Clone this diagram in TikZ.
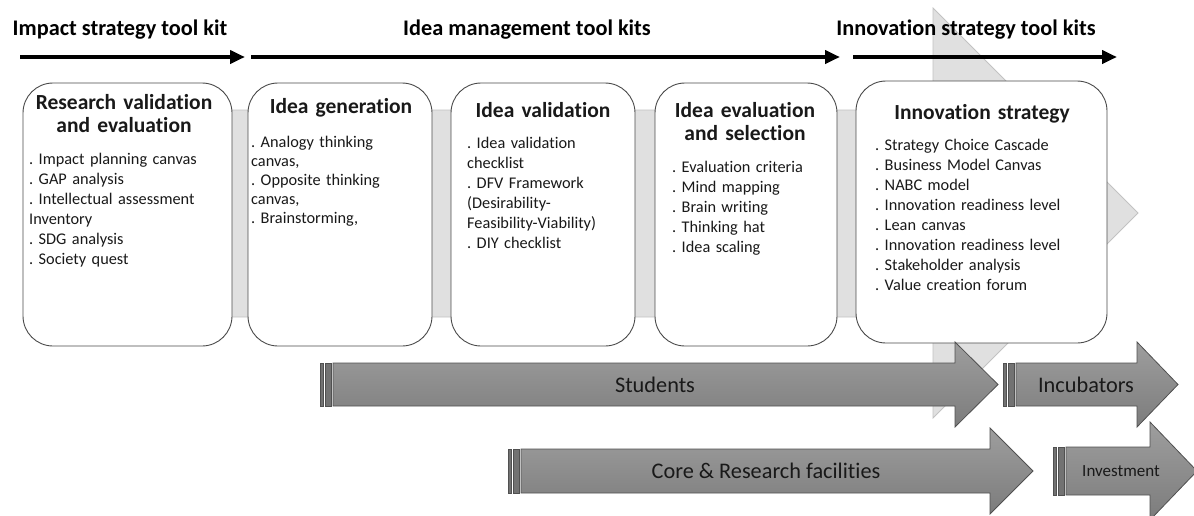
\documentclass[tikz,border=0pt]{standalone}
\usepackage{fontspec}
\setmainfont{Carlito}[Ligatures=NoCommon]
\usepackage{xcolor}
\usepackage{tikz}
\usetikzlibrary{arrows.meta, calc, positioning}
\frenchspacing

\definecolor{boxline}{HTML}{4A4A4A}
\definecolor{bandfill}{HTML}{E0E0E0}
\definecolor{bandline}{HTML}{C2C2C2}
\definecolor{barline}{HTML}{505050}
\definecolor{bartop}{HTML}{9E9E9E}
\definecolor{barbot}{HTML}{7C7C7C}
\definecolor{bardark}{HTML}{727272}

% fat grey arrow: bars x, head x, tip x, mid y, half body, half head
\newcommand{\flowarrow}[6]{%
  \draw[draw=barline, fill=bardark, line width=0.6pt] (#1,#4-#5) rectangle (#1+3.5,#4+#5);
  \draw[draw=barline, fill=bardark, line width=0.6pt] (#1+5,#4-#5) rectangle (#1+11,#4+#5);
  \draw[draw=barline, line width=0.8pt, top color=bartop, bottom color=barbot]
    (#1+13,#4-#5) -- (#2,#4-#5) -- (#2,#4-#6) -- (#3,#4) -- (#2,#4+#6) -- (#2,#4+#5) -- (#1+13,#4+#5) -- cycle;
}

\begin{document}
\begin{tikzpicture}[x=1pt, y=-1pt,
    stage/.style={draw=boxline, line width=0.9pt, fill=white, rounded corners=30pt, inner sep=0pt},
    kittitle/.style={font=\fontsize{22.3}{26}\selectfont\bfseries, inner sep=0pt, anchor=base},
    stagehead/.style={font=\fontsize{21.5}{23}\selectfont\bfseries, text width=200pt, align=center, inner sep=0pt, anchor=base, text=black!90},
    tools/.style={font=\fontsize{16.3}{20}\selectfont, text width=240pt, align=left, inner sep=0pt, anchor=base west, text=black!90},
    kitarrow/.style={line width=4.5pt, -{Triangle[length=15pt, width=13pt]}},
    barlabel/.style={font=\fontsize{22.3}{26}\selectfont, inner sep=0pt, text=black!90}]
    \useasboundingbox (0,0) rectangle (1194,515);
    \clip (0,0) rectangle (1194,515);

    % light arrow behind the stages
    \draw[draw=bandline, fill=bandfill, line width=0.8pt] (60,110) -- (933,110) -- (933,8) -- (1138,213)
        -- (933,418) -- (933,317) -- (60,317) -- cycle;

    % tool kit titles and arrows
    \node[kittitle] (impact) at (120,35) {Impact strategy tool kit};
    \node[kittitle] (ideamgmt) at (527,35) {Idea management tool kits};
    \node[kittitle] (innostrat) at (966,35) {Innovation strategy tool kits};

    \coordinate (ka) at (20,57);
    \coordinate (kb) at (245,57);
    \coordinate (kc) at (251,57);
    \coordinate (kd) at (840,57);
    \coordinate (ke) at (853,57);
    \coordinate (kf) at (1117,57);
    \draw[kitarrow] (ka) -- (kb);
    \draw[kitarrow] (kc) -- (kd);
    \draw[kitarrow] (ke) -- (kf);

    % stages
    \node[stage, minimum width=209pt, minimum height=263pt] (resval) at (127.5,214.5) {};
    \node[stage, minimum width=184pt, minimum height=263pt] (ideagen) at (340,214.5) {};
    \node[stage, minimum width=184pt, minimum height=263pt] (ideaval) at (543,214.5) {};
    \node[stage, minimum width=182pt, minimum height=263pt] (ideasel) at (746,214.5) {};
    \node[stage, minimum width=251pt, minimum height=262pt] (strategy) at (981.5,212) {};

    \node[stagehead] (resvalh) at (124,109) {Research validation\\and evaluation};
    \node[stagehead] (ideagenh) at (341,113) {Idea generation};
    \node[stagehead] (ideavalh) at (543,117) {Idea validation};
    \node[stagehead] (ideaselh) at (745,117) {Idea evaluation\\and selection};
    \node[stagehead] (strategyh) at (982,119) {Innovation strategy};

    \node[tools] (resvalt) at (29,164) {. Impact planning canvas\\. GAP analysis\\. Intellectual assessment\\Inventory\\. SDG analysis\\. Society quest};
    \node[tools, font=\fontsize{16.3}{19}\selectfont] (ideagent) at (251,147) {. Analogy thinking\\canvas,\\. Opposite thinking\\canvas,\\. Brainstorming,};
    \node[tools] (ideavalt) at (467,148) {. Idea validation\\checklist\\. DFV Framework\\(Desirability-\\Feasibility-Viability)\\. DIY checklist};
    \node[tools] (ideaselt) at (672,172) {. Evaluation criteria\\. Mind mapping\\. Brain writing\\. Thinking hat\\. Idea scaling};
    \node[tools] (strategyt) at (875,150) {. Strategy Choice Cascade\\. Business Model Canvas\\. NABC model\\. Innovation readiness level\\. Lean canvas\\. Innovation readiness level\\. Stakeholder analysis\\. Value creation forum};

    % who carries it
    \flowarrow{320}{955}{998}{384.5}{21.5}{42.5}
    \flowarrow{1003}{1137}{1178}{384.5}{21.5}{42.5}
    \flowarrow{508}{990}{1033}{471}{22}{43}
    \flowarrow{1053}{1150}{1197}{471}{24}{49}

    \node[barlabel] (students) at (655,385) {Students};
    \node[barlabel] (incubators) at (1086,385) {Incubators};
    \node[barlabel] (facilities) at (766,471) {Core \& Research facilities};
    \node[barlabel, font=\fontsize{17}{20}\selectfont] (investment) at (1121,471) {Investment};
\end{tikzpicture}
\end{document}
